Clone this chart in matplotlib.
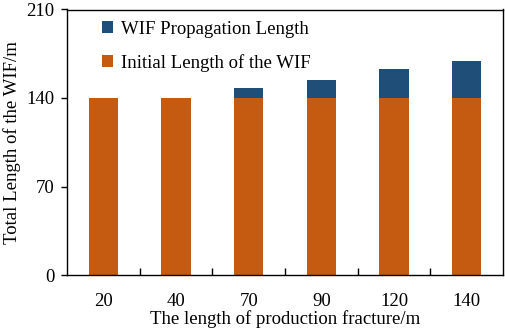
import numpy as np
import matplotlib
matplotlib.use('Agg')
import matplotlib.pyplot as plt

plt.rcParams['font.family'] = ['Liberation Serif', 'DejaVu Serif']

fracture_len = ['20', '40', '70', '90', '120', '140']
initial_len = [140, 140, 140, 140, 140, 140]
propagation_len = [0, 0, 8, 14, 23, 29]

fig = plt.figure(figsize=(5.05, 3.31), dpi=100)
ax = fig.add_axes([67/505, 1 - 275/331, 436/505, 265.5/331])

x = np.arange(len(fracture_len))
ax.bar(x, initial_len, width=0.4, color='#C55A11', label='Initial Length of the WIF')
ax.bar(x, propagation_len, width=0.4, bottom=initial_len, color='#1F4E79',
       label='WIF Propagation Length')

ax.set_xlim(-0.5, 5.5)
ax.set_ylim(0, 210)
ax.set_yticks([0, 70, 140, 210])
ax.set_xticks(x)
ax.set_xticklabels(fracture_len)
ax.set_xticks(np.arange(0.5, 5.5, 1), minor=True)
ax.tick_params(axis='x', which='major', length=0, labelsize=13.5, pad=13)
ax.tick_params(axis='x', which='minor', direction='in', length=5, width=1)
ax.tick_params(axis='y', direction='out', length=4, width=1, labelsize=13.5, pad=5)
for s in ax.spines.values():
    s.set_linewidth(1)

ax.set_xlabel('The length of production fracture/m', fontsize=13.5, labelpad=0)
ax.set_ylabel('Total Length of the WIF/m', fontsize=13.5, labelpad=4)

h, l = ax.get_legend_handles_labels()
ax.legend(h[::-1], l[::-1], loc='upper left', frameon=False, fontsize=13.5,
          handlelength=0.55, handleheight=0.55, handletextpad=0.45,
          labelspacing=0.85, borderpad=0.1, bbox_to_anchor=(0.055, 1.0))

fig.savefig('out.png', dpi=100)
